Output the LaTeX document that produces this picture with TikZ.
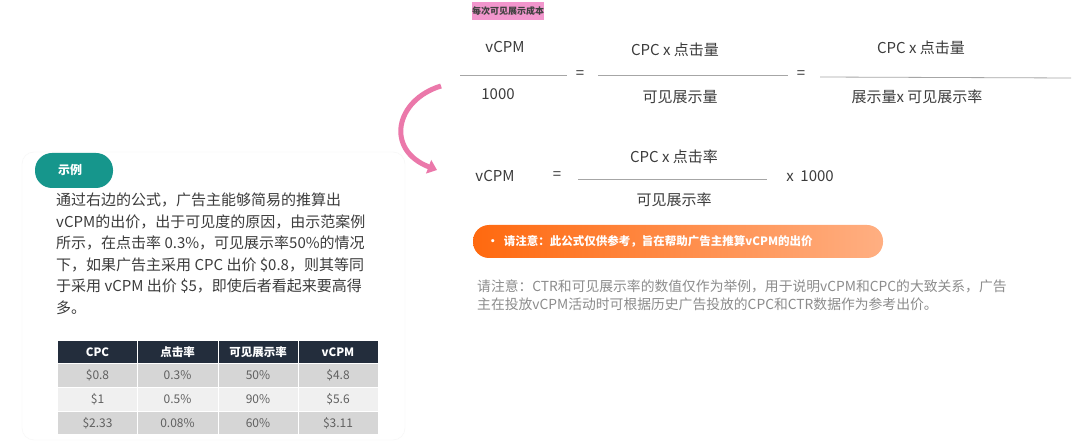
\documentclass[tikz,border=0pt]{standalone}
\usepackage{fontspec}
\setmainfont{Noto Sans CJK SC}
\usetikzlibrary{arrows.meta,positioning}
\definecolor{exteal}{RGB}{22,150,140}
\definecolor{tabhead}{RGB}{35,45,60}
\definecolor{txtgray}{RGB}{60,60,60}
\definecolor{notegray}{RGB}{140,140,140}
\definecolor{hlpink}{RGB}{242,150,205}
\definecolor{arrpink}{RGB}{235,120,170}
\definecolor{orgdark}{RGB}{255,105,15}
\definecolor{orglight}{RGB}{255,175,130}
\tikzset{
  fml/.style={font=\fontsize{15}{18}\selectfont, text=txtgray, inner sep=0pt},
  fracline/.style={draw=gray!70, line width=0.8pt},
  cell/.style={font=\fontsize{12}{14}\selectfont, text=gray!75!black, inner sep=0pt},
  headcell/.style={cell, text=white, font=\bfseries\fontsize{11.5}{14}\selectfont},
}
\begin{document}
\begin{tikzpicture}[x=1pt,y=-1pt]
\useasboundingbox (0,0) rectangle (1080,446);
\fill[white] (0,0) rectangle (1080,446);
% example card
\draw[gray!8, rounded corners=12pt] (22,152) rectangle (405,440);
\fill[exteal, rounded corners=17pt] (35,153) rectangle (113,188);
\node[font=\bfseries\fontsize{12}{14}\selectfont, text=white] (tag) at (70,170) {示例};
\node[font=\fontsize{15}{21.5}\selectfont, text=txtgray, anchor=north west, align=left, inner sep=0pt] (para) at (56,193)
  {通过右边的公式，广告主能够简易的推算出\\vCPM的出价，出于可见度的原因，由示范案例\\所示，在点击率 0.3\%，可见展示率50\%的情况\\下，如果广告主采用 CPC 出价 \$0.8，则其等同\\于采用 vCPM 出价 \$5，即使后者看起来要高得\\多。};
% table
\fill[tabhead] (58,341) rectangle (378,363);
\fill[gray!32] (58,363) rectangle (378,387);
\fill[gray!12] (58,387) rectangle (378,411);
\fill[gray!32] (58,411) rectangle (378,434);
\foreach \x in {137,218,298} \draw[white, line width=0.8pt] (\x,341) -- (\x,434);
\foreach \y in {363,387,411} \draw[white, line width=0.8pt] (58,\y) -- (378,\y);
\node[headcell] (h1) at (97.5,352) {CPC};
\node[headcell] (h2) at (177.5,352) {点击率};
\node[headcell] (h3) at (258,352) {可见展示率};
\node[headcell] (h4) at (338,352) {vCPM};
\foreach \a/\b/\c/\d [count=\i] in {\$0.8/0.3\%/50\%/\$4.8, \$1/0.5\%/90\%/\$5.6, \$2.33/0.08\%/60\%/\$3.11} {
  \node[cell] (r\i a) at (97.5,351+24*\i) {\a};
  \node[cell] (r\i b) at (177.5,351+24*\i) {\b};
  \node[cell] (r\i c) at (258,351+24*\i) {\c};
  \node[cell] (r\i d) at (338,351+24*\i) {\d};
}
% title
\fill[hlpink] (472,2) rectangle (544,20);
\node[font=\bfseries\fontsize{9}{11}\selectfont, text=black!75, inner sep=0pt] (title) at (508,11) {每次可见展示成本};
% first formula
\node[fml] (v1) at (505,47) {vCPM};
\node[fml] (k1) at (498,94) {1000};
\draw[fracline] (460,75) -- (567,75);
\node[fml] (eq1) at (580,75) {=};
\node[fml] (n2) at (675,50) {CPC x 点击量};
\node[fml] (d2) at (680,97) {可见展示量};
\draw[fracline] (598,75) -- (788,75);
\node[fml] (eq2) at (801,75) {=};
\node[fml] (n3) at (921,48) {CPC x 点击量};
\node[fml] (d3) at (917,97) {展示量x 可见展示率};
\draw[fracline] (820,77) -- (1071,78);
% curved arrow
\coordinate (arA) at (441,86);
\coordinate (arB) at (437,170);
\draw[arrpink, line width=5pt, -{Triangle[length=9pt,width=14pt]}] (arA) .. controls (395,100) and (385,150) .. (arB);
% second formula
\node[fml] (v2) at (495,176) {vCPM};
\node[fml] (eq3) at (557,176) {=};
\node[fml] (n4) at (674,157) {CPC x 点击率};
\node[fml] (d4) at (674,200) {可见展示率};
\draw[fracline] (578,179) -- (767,179);
\node[fml] (k2) at (810,176) {x~~1000};
% orange note
\shade[left color=orgdark, right color=orglight, rounded corners=16pt] (473,225) rectangle (883,258);
\node[font=\bfseries\fontsize{11.5}{13}\selectfont, text=white, anchor=west, inner sep=0pt] (warn) at (487,241) {•~~请注意：此公式仅供参考，旨在帮助广告主推算vCPM的出价};
% gray note
\node[font=\fontsize{13.8}{18}\selectfont, text=notegray, anchor=north west, align=left, inner sep=0pt] (note) at (477,280)
  {请注意：CTR和可见展示率的数值仅作为举例，用于说明vCPM和CPC的大致关系，广告\\主在投放vCPM活动时可根据历史广告投放的CPC和CTR数据作为参考出价。};
\end{tikzpicture}
\end{document}
